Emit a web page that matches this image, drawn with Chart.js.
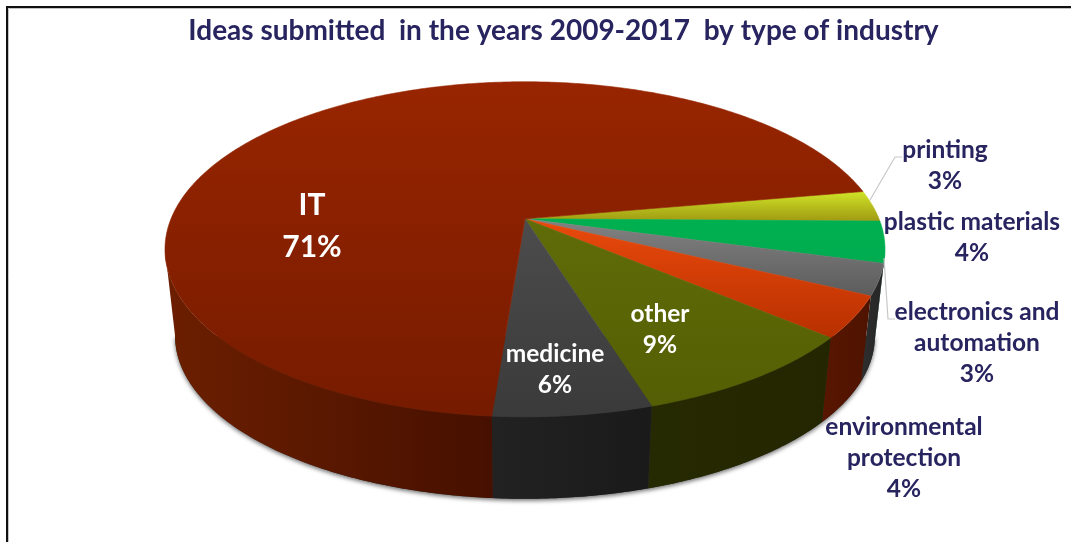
<!DOCTYPE html>
<html>
<head>
<meta charset="utf-8">
<title>Ideas submitted by type of industry</title>
<script src="https://cdn.jsdelivr.net/npm/chart.js@4"></script>
<style>
    body { margin: 0; background: #fff; }
    canvas { display: block; }
</style>
</head>
<body>
<canvas id="chartIndustry" width="1071" height="542"></canvas>
<script>
const chartTitle = 'Ideas submitted  in the years 2009-2017  by type of industry';
const categories = [
    ['printing'],
    ['plastic materials'],
    ['electronics and', 'automation'],
    ['environmental', 'protection'],
    ['other'],
    ['medicine'],
    ['IT']
];
const shares = [3, 4, 3, 4, 9, 6, 71];

// Top face colours (upper shade, lower shade) and side wall colours (left, right)
const topLight = ['#d0e428', '#00b050', '#828282', '#ea4a0c', '#606c08', '#4c4c4c', '#982500'];
const topDark = ['#a09a12', '#00ac50', '#5c5c5c', '#b83000', '#545e04', '#3a3a3a', '#761b00'];
const wallLeft = ['#5c5c10', '#005c2c', '#2e2e2e', '#581600', '#262a02', '#222222', '#6c1f00'];
const wallRight = ['#5c5c10', '#005c2c', '#262626', '#4e1300', '#232600', '#1a1a1a', '#461000'];

// Label centres, one per slice, first line first
const labelSpots = [[945, 150], [972, 222], [977, 312], [904, 427], [660, 314], [555, 354], [312, 205]];
const labelColors = ['#27245f', '#27245f', '#27245f', '#27245f', '#fff', '#fff', '#fff'];

// Perspective of the disc: tilt narrows the far side, flat squashes the height
const tilt = 0.182;
const flat = 0.4576;

function project(el, angle, disc) {
    const u = Math.cos(angle), v = Math.sin(angle);
    const d = 1 - tilt * v;
    return {
        x: disc.x + disc.s * el.outerRadius * u / d,
        y: disc.y + disc.s * el.outerRadius * flat * v / d
    };
}

function arcPoints(el, from, to, disc) {
    const pts = [];
    const steps = Math.max(2, Math.ceil((to - from) / 0.01));
    for (let i = 0; i <= steps; i++) {
        pts.push(project(el, from + (to - from) * i / steps, disc));
    }
    return pts;
}

function tracePath(ctx, pts) {
    ctx.beginPath();
    pts.forEach((p, i) => (i ? ctx.lineTo(p.x, p.y) : ctx.moveTo(p.x, p.y)));
    ctx.closePath();
}

const pie3d = {
    id: 'pie3d',
    beforeDraw(chart) {
        // Frame round the slide, open on the right and at the bottom
        const ctx = chart.ctx;
        ctx.save();
        ctx.strokeStyle = '#c4c4c4';
        ctx.lineWidth = 1;
        ctx.beginPath();
        ctx.moveTo(8.5, 542);
        ctx.lineTo(8.5, 8.5);
        ctx.lineTo(1071, 8.5);
        ctx.stroke();
        ctx.strokeStyle = '#111';
        ctx.lineWidth = 2;
        ctx.beginPath();
        ctx.moveTo(7, 542);
        ctx.lineTo(7, 7);
        ctx.lineTo(1071, 7);
        ctx.stroke();
        ctx.restore();
    },
    beforeDatasetsDraw(chart) {
        const ctx = chart.ctx;
        const arcs = chart.getDatasetMeta(0).data;
        const top = { x: arcs[0].x - 38.5, y: arcs[0].y + chart.options.plugins.pie3d.shiftY, s: 1 };
        const bottom = { x: top.x, y: top.y + 87.5, s: 0.972 };
        const TWO_PI = Math.PI * 2;
        // Angles of the outline's left and right extremes, walls stop there
        const rightEdge = Math.asin(tilt);
        const leftEdge = Math.PI - rightEdge;

        // Soft shadow under the whole body
        ctx.save();
        ctx.shadowColor = 'rgba(0,0,0,0.55)';
        ctx.shadowBlur = 4;
        ctx.shadowOffsetY = 2;
        ctx.fillStyle = '#333';
        tracePath(ctx, arcPoints(arcs[0], rightEdge, leftEdge, bottom));
        ctx.fill();
        ctx.restore();

        // Side walls, only the part that faces the viewer
        arcs.forEach((el, i) => {
            const from = Math.max(el.startAngle, rightEdge);
            const to = Math.min(el.endAngle, leftEdge);
            if (to <= from) return;
            const upper = arcPoints(el, from, to, top);
            const lower = arcPoints(el, from, to, bottom).reverse();
            const xs = upper.concat(lower).map(p => p.x);
            const grad = ctx.createLinearGradient(Math.min(...xs), 0, Math.max(...xs), 0);
            grad.addColorStop(0, wallLeft[i]);
            grad.addColorStop(1, wallRight[i]);
            ctx.fillStyle = grad;
            tracePath(ctx, upper.concat(lower));
            ctx.fill();
        });

        // Top faces, all slices start from the apex
        arcs.forEach((el, i) => {
            const rim = arcPoints(el, el.startAngle, el.endAngle, top);
            const pts = [{ x: top.x, y: top.y }].concat(rim);
            const ys = pts.map(p => p.y);
            const grad = ctx.createLinearGradient(0, Math.min(...ys), 0, Math.max(...ys));
            grad.addColorStop(0, topLight[i]);
            grad.addColorStop(1, topDark[i]);
            ctx.fillStyle = grad;
            ctx.strokeStyle = grad;
            ctx.lineWidth = 0.6;
            tracePath(ctx, pts);
            ctx.fill();
            ctx.stroke();
        });

        // Leader lines for the two outer labels
        ctx.strokeStyle = '#c8c8c8';
        ctx.lineWidth = 1.2;
        ctx.beginPath();
        ctx.moveTo(870, 200);
        ctx.lineTo(895, 157);
        ctx.lineTo(902, 157);
        ctx.moveTo(884, 258);
        ctx.lineTo(888, 319);
        ctx.lineTo(895, 319);
        ctx.stroke();

        // Slice labels: name lines, then the share
        ctx.textAlign = 'center';
        ctx.textBaseline = 'middle';
        arcs.forEach((el, i) => {
            const big = i === arcs.length - 1;
            const [x, y] = labelSpots[i];
            const lines = categories[i].concat(shares[i] + '%');
            ctx.fillStyle = labelColors[i];
            ctx.font = (big ? 'bold 30px' : 'bold 24.5px') + ' Lato';
            lines.forEach((line, n) => ctx.fillText(line, x, y + n * (big ? 42 : 31)));
        });
        return false;
    }
};

new Chart(document.getElementById('chartIndustry'), {
    type: 'pie',
    data: {
        labels: categories,
        datasets: [{
            data: shares,
            backgroundColor: topLight,
            borderWidth: 0
        }]
    },
    options: {
        responsive: false,
        animation: false,
        rotation: 80,
        radius: 354,
        layout: { padding: { left: 56, top: 14, bottom: 158 } },
        plugins: {
            legend: { display: false },
            tooltip: { enabled: false },
            pie3d: { shiftY: 0 },
            title: {
                display: true,
                text: chartTitle,
                color: '#27245f',
                font: { family: 'Lato', size: 28, weight: 'bold' },
                padding: { top: 0, bottom: 6 }
            }
        }
    },
    plugins: [pie3d]
});
</script>
</body>
</html>
